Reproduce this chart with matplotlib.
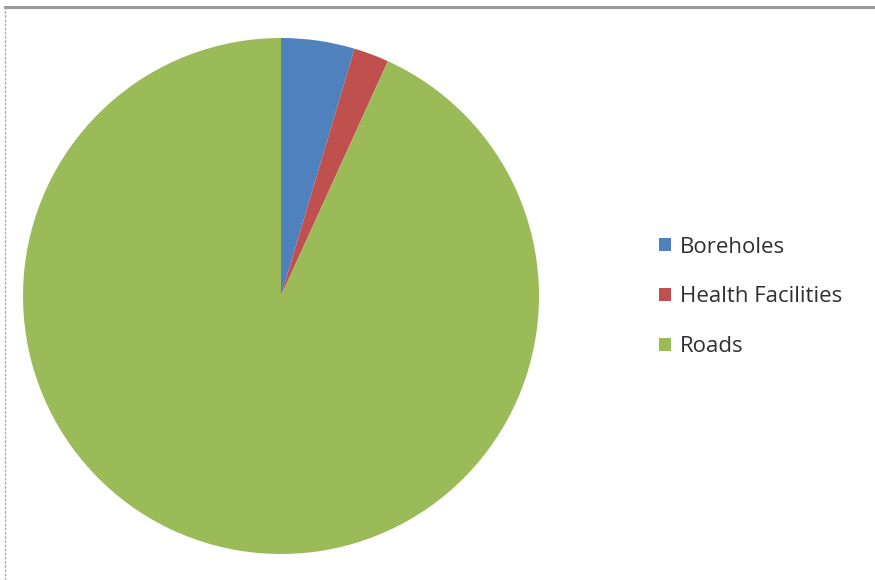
import matplotlib.pyplot as plt
from matplotlib.lines import Line2D

# share of projects by sector
labels = ['Boreholes', 'Health Facilities', 'Roads']
values = [4.6, 2.2, 93.2]
colors = ['#4F81BD', '#C0504D', '#9BBB59']

W, H = 875, 580
fig = plt.figure(figsize=(W / 100, H / 100), dpi=100)

cx, cy, r = 281, 296, 258
ax = fig.add_axes([(cx - r) / W, (H - cy - r) / H, 2 * r / W, 2 * r / H])
wedges, _ = ax.pie(values, colors=colors, startangle=90, counterclock=False,
                   radius=1, wedgeprops=dict(linewidth=0))
ax.set_xlim(-1, 1)
ax.set_ylim(-1, 1)
ax.set_aspect('equal')
ax.axis('off')

fig.legend(wedges, labels, loc='center left',
           bbox_to_anchor=(659 / W, 1 - 297 / H), frameon=False,
           prop={'family': 'Open Sans', 'size': 16}, labelcolor='#303030',
           handlelength=0.55, handleheight=0.55, handletextpad=0.4,
           labelspacing=1.3, borderaxespad=0, borderpad=0)

# chart frame lines
fig.add_artist(Line2D([5 / W, 1], [1 - 7 / H, 1 - 7 / H], color='#9a9a9a', lw=2.2,
                      transform=fig.transFigure))
fig.add_artist(Line2D([5 / W, 5 / W], [0, 1 - 7 / H], color='#b0b0b0', lw=1,
                      ls=(0, (2, 1)), transform=fig.transFigure))

fig.savefig('out.png', dpi=100)
